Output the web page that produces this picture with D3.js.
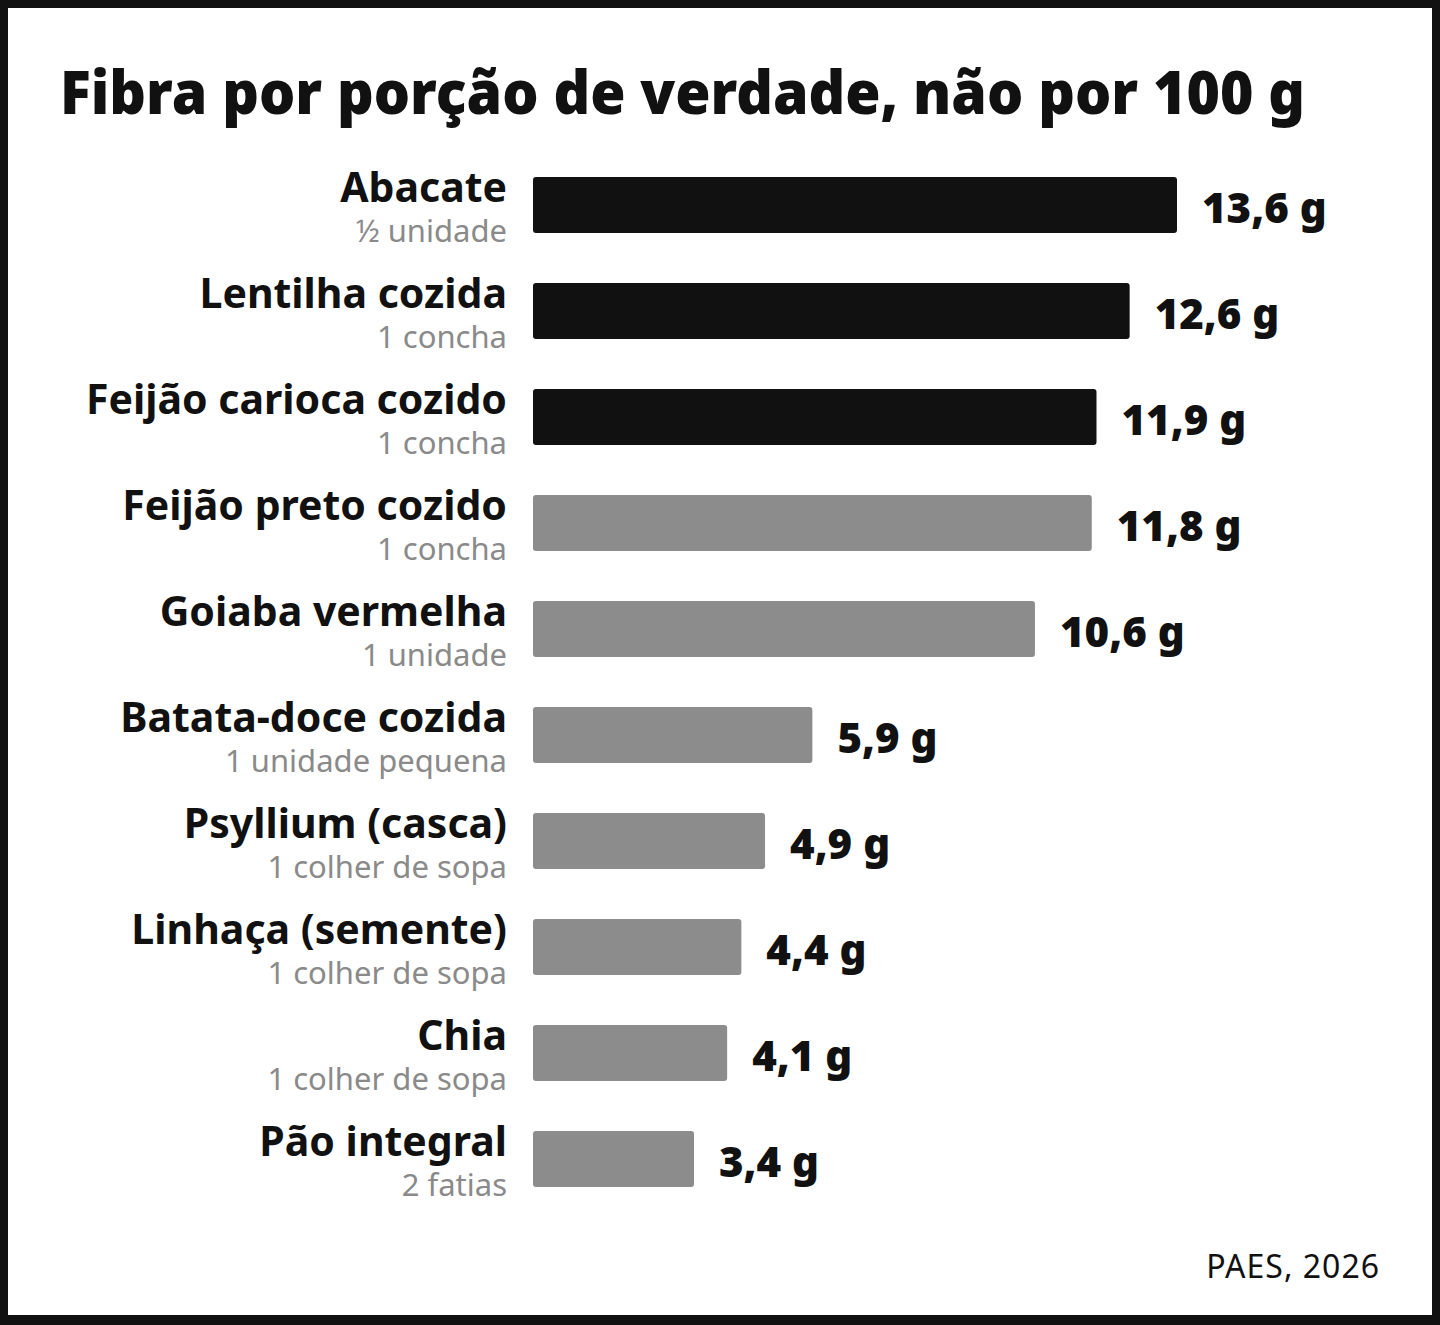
<!DOCTYPE html>
<html><head><meta charset="utf-8">
<script src="https://cdn.jsdelivr.net/npm/d3@7"></script>
<style>
html,body{margin:0;padding:0;background:#111;}
svg{display:block;}
</style></head>
<body>
<svg id="c" width="1440" height="1325"></svg>
<script>
const categories = ["Abacate","Lentilha cozida","Feijão carioca cozido","Feijão preto cozido","Goiaba vermelha","Batata-doce cozida","Psyllium (casca)","Linhaça (semente)","Chia","Pão integral"];
const portions = ["½ unidade","1 concha","1 concha","1 concha","1 unidade","1 unidade pequena","1 colher de sopa","1 colher de sopa","1 colher de sopa","2 fatias"];
const values = [13.6,12.6,11.9,11.8,10.6,5.9,4.9,4.4,4.1,3.4];
const highlighted = [true,true,true,false,false,false,false,false,false,false];
const title = "Fibra por porção de verdade, não por 100 g";
const source = "PAES, 2026";

const FONT = "'Noto Sans', 'Open Sans', sans-serif";
const svg = d3.select("#c");
svg.append("rect").attr("x",8).attr("y",8).attr("width",1424).attr("height",1307).attr("fill","#fff");

const t = svg.append("text").attr("x",60).attr("y",114)
  .attr("font-family",FONT).attr("font-weight",900).attr("font-size",60)
  .attr("fill","#111").text(title);
const tw = t.node().getComputedTextLength();
if (tw > 1245) t.attr("textLength",1245).attr("lengthAdjust","spacingAndGlyphs");

const x = d3.scaleLinear().domain([0,13.6]).range([533,1177]);
const y = d3.scaleBand().domain(categories).range([152,1212]).paddingInner(0.47).paddingOuter(0.235);

const g = svg.append("g");
const fmt = v => d3.format(".1f")(v).replace(".",",") + " g";

g.selectAll("rect.bar").data(values).join("rect").attr("class","bar")
  .attr("x",x(0)).attr("y",(d,i)=>y(categories[i]))
  .attr("width",d=>x(d)-x(0)).attr("height",y.bandwidth())
  .attr("rx",3).attr("fill",(d,i)=>highlighted[i]?"#111":"#8c8c8c");

g.selectAll("text.val").data(values).join("text").attr("class","val")
  .attr("x",d=>x(d)+25).attr("y",(d,i)=>y(categories[i])+y.bandwidth()/2+18)
  .attr("font-family",FONT).attr("font-weight",900).attr("font-size",42)
  .attr("fill","#111").text(fmt);

g.selectAll("text.lab").data(categories).join("text").attr("class","lab")
  .attr("x",507).attr("y",d=>y(d)+y.bandwidth()/2-3).attr("text-anchor","end")
  .attr("font-family",FONT).attr("font-weight",700).attr("font-size",41)
  .attr("fill","#111").text(d=>d);

g.selectAll("text.sub").data(portions).join("text").attr("class","sub")
  .attr("x",507).attr("y",(d,i)=>y(categories[i])+y.bandwidth()/2+37).attr("text-anchor","end")
  .attr("font-family",FONT).attr("font-weight",400).attr("font-size",31)
  .attr("fill","#8a8a8a").text(d=>d);

svg.append("text").attr("x",1380).attr("y",1278).attr("text-anchor","end")
  .attr("font-family",FONT).attr("font-size",32).attr("letter-spacing",1).attr("fill","#111").text(source);
</script>
</body></html>
